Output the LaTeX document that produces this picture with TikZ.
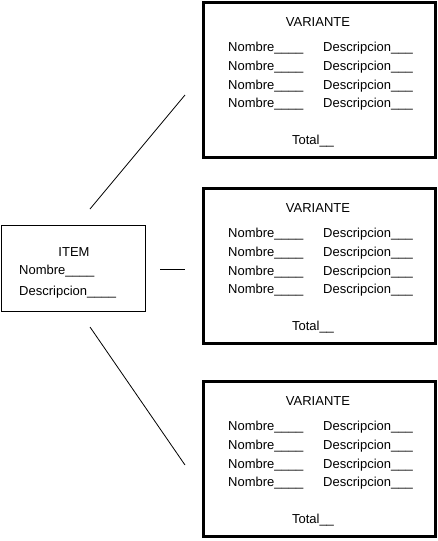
\documentclass[tikz,border=0pt]{standalone}
\usepackage{fontspec}
\setmainfont{Liberation Sans}
\begin{document}
\begin{tikzpicture}[x=1pt,y=-1pt,
  vbox/.style={draw,line width=3pt},
  ibox/.style={draw,line width=1pt},
  txt/.style={inner sep=0pt,anchor=west,font=\fontsize{13}{15}\selectfont},
  ctxt/.style={inner sep=0pt,anchor=center,font=\fontsize{13}{15}\selectfont},
  conn/.style={line width=0.8pt}]
\useasboundingbox (0,0) rectangle (438,541);
% ITEM box
\draw[ibox] (1,225) rectangle (145,311);
\node[ctxt] (item) at (74,252.5) {ITEM};
\node[txt] (inom) at (19,271.5) {Nombre\_\_\_\_};
\node[txt] (idesc) at (19,292.5) {Descripcion\_\_\_\_};
% variant boxes
\foreach \k/\t in {1/2,2/188,3/381}{
  \draw[vbox] (203,\t) rectangle (435,\t+155);
  \node[ctxt] (var\k) at (318,\t+20) {VARIANTE};
  \foreach \r/\dy in {1/46,2/65,3/84,4/102.5}{
    \node[txt] (n\k\r) at (228,\t+\dy) {Nombre\_\_\_\_};
    \node[txt] (d\k\r) at (323,\t+\dy) {Descripcion\_\_\_};
  }
  \node[ctxt] (tot\k) at (313,\t+139) {Total\_\_};
}
% connectors
\coordinate (s1) at (90,209);
\coordinate (e1) at (185,95);
\coordinate (s2) at (160,269);
\coordinate (e2) at (185,269);
\coordinate (s3) at (90,327);
\coordinate (e3) at (185,465);
\draw[conn] (s1) -- (e1);
\draw[conn] (s2) -- (e2);
\draw[conn] (s3) -- (e3);
\end{tikzpicture}
\end{document}
